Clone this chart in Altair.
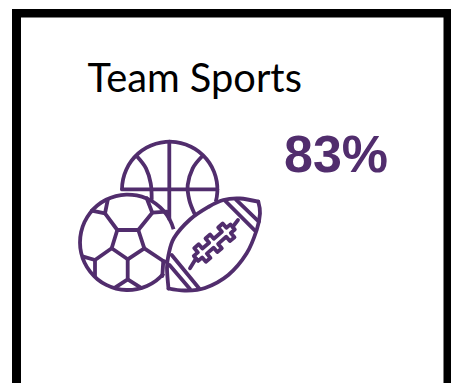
import math
import altair as alt
import pandas as pd

PURPLE = "#512D6D"
WIDTH, HEIGHT = 453, 383

# Black frame bars: left, top and right edges of the card
frame_x = [12, 12, 443.5]
frame_x2 = [21, 451, 451]
frame_y = [9, 9, 9]
frame_y2 = [383, 17.5, 383]

# Ball outlines: centre, radius, start and end bearing in degrees
ball_names = ["basketball", "soccer"]
ball_cx = [169.7, 127.7]
ball_cy = [189.4, 242.3]
ball_r = [47.7, 47.7]
ball_from = [270, 131]
ball_to = [465, 434]

# Straight outline segments of the icon
straight_paths = {
    "bb_vertical": [(169.3, 141.7), (169.3, 219)],
    "bb_horizontal": [(122, 189.4), (217.3, 189.4)],
    "pentagon": [(117.3, 230), (138.3, 230), (144.3, 248.3), (127.7, 259.3),
                 (111.7, 248.3), (117.3, 230)],
    "s_topleft": [(117.3, 230), (105, 213.3), (107.7, 200)],
    "s_topleft_b": [(91.7, 210.7), (105, 213.3)],
    "s_topright": [(138.3, 230), (152.3, 212.7), (146.7, 198.3)],
    "s_topright_b": [(152.3, 212.7), (166.7, 211.7)],
    "s_left": [(111.7, 248.3), (95, 260), (83.3, 256.7)],
    "s_left_b": [(95, 260), (95, 276)],
    "s_bottom": [(127.7, 259.3), (127.7, 279.3), (115, 287.7)],
    "s_bottom_b": [(127.7, 279.3), (140.7, 287.7)],
    "s_right": [(144.3, 248.3), (163.3, 261), (162.3, 276)],
    "s_right_b": [(163.3, 261), (166.5, 262)],
    "stripe_a": [(225, 200.7), (255, 230.7)],
    "stripe_b": [(236, 199.7), (258.8, 221.7)],
    "stripe_c": [(171.7, 255), (199, 288.3)],
    "stripe_d": [(169.5, 265), (190, 289)],
    "lace_stem_low": [(196, 258.4), (190, 268.3)],
    "lace_stem_high": [(232.6, 227), (238, 220)],
    "laces": [
        (193.8, 255.9), (197.9, 252.4), (194.2, 248.1), (198.7, 244.2),
        (202.4, 248.5), (209.2, 242.8), (205.5, 238.5), (210.1, 234.5),
        (213.8, 238.8), (221.9, 231.8), (218.2, 227.5), (222.7, 223.5),
        (226.4, 227.8), (230.5, 224.4), (234.8, 229.5), (230.8, 232.9),
        (234.5, 237.2), (229.9, 241.1), (226.2, 236.8), (218.1, 243.9),
        (221.8, 248.2), (217.3, 252.1), (213.6, 247.8), (206.8, 253.6),
        (210.5, 257.9), (205.9, 261.8), (202.2, 257.5), (198.2, 260.9),
        (193.8, 255.9),
    ],
}

# Curved outline segments of the icon
curved_paths = {
    "bb_left": [(137.3, 156.7), (146, 168.3), (150.7, 183.3), (151.7, 199)],
    "bb_right": [(201.7, 156.7), (192.7, 168.3), (187.7, 185), (189.3, 200),
                 (194.3, 213.3)],
    "fb_upper": [(168.5, 288.5), (167, 268), (168.5, 255), (174, 238), (190, 219.5),
                 (208.3, 207), (223.3, 200), (240, 198.5), (258.3, 201.7)],
    "fb_lower": [(168.5, 288.5), (185, 290.5), (205, 288), (228.3, 275),
                 (246.7, 253.3), (256.7, 230), (260, 213.3), (258.3, 201.7)],
}

# Title and figure labels
label_text = ["Team Sports", "83%"]
label_x = [87.5, 284]
label_y = [92, 172]
label_size = [39.8, 52]
label_font = ["Lato", "Liberation Sans"]
label_weight = ["normal", "bold"]
label_color = ["#000000", PURPLE]

# Both position scales read in canvas units, y growing downwards
x_scale = alt.Scale(domain=[0, WIDTH], range=[0, WIDTH], nice=False, zero=False)
y_scale = alt.Scale(domain=[0, HEIGHT], range=[0, HEIGHT], nice=False, zero=False)
X = alt.X("x:Q", scale=x_scale, axis=None)
Y = alt.Y("y:Q", scale=y_scale, axis=None)

frame_df = pd.DataFrame({"x": frame_x, "x2": frame_x2, "y": frame_y, "y2": frame_y2})
frame = alt.Chart(frame_df).mark_rect(color="black").encode(
    x=X, x2="x2:Q", y=Y, y2="y2:Q"
)

STROKE = 3.8
balls_df = pd.DataFrame({
    "ball": ball_names,
    "x": ball_cx,
    "y": ball_cy,
    "outer": [r + STROKE / 2 for r in ball_r],
    "inner": [r - STROKE / 2 for r in ball_r],
    "t0": [math.radians(a) for a in ball_from],
    "t1": [math.radians(a) for a in ball_to],
})
balls = alt.Chart(balls_df).mark_arc(color=PURPLE).encode(
    x=X,
    y=Y,
    theta=alt.Theta("t0:Q", scale=None, stack=None),
    theta2="t1:Q",
    radius=alt.Radius("outer:Q", scale=None),
    radius2="inner:Q",
    detail="ball:N",
)


def path_rows(paths):
    return pd.DataFrame([
        {"path": name, "i": i, "x": x, "y": y}
        for name, pts in paths.items()
        for i, (x, y) in enumerate(pts)
    ])


def outline(paths, interpolate):
    return alt.Chart(path_rows(paths)).mark_line(
        color=PURPLE,
        strokeWidth=STROKE,
        strokeCap="round",
        strokeJoin="round",
        interpolate=interpolate,
    ).encode(x=X, y=Y, detail="path:N", order="i:Q")


labels = [
    alt.Chart(pd.DataFrame({"x": [x], "y": [y], "t": [t]})).mark_text(
        align="left", baseline="alphabetic", font=font, fontSize=size,
        fontWeight=weight, color=color,
    ).encode(x=X, y=Y, text="t:N")
    for t, x, y, size, font, weight, color in zip(
        label_text, label_x, label_y, label_size, label_font, label_weight, label_color
    )
]

chart = alt.layer(
    frame, balls, outline(straight_paths, "linear"), outline(curved_paths, "cardinal"), *labels
).properties(
    width=WIDTH, height=HEIGHT, padding=0, autosize=alt.AutoSizeParams(type="none"),
    background="white",
).configure_view(stroke=None)

chart.save("out.html", embed_options={"renderer": "svg", "actions": False})
